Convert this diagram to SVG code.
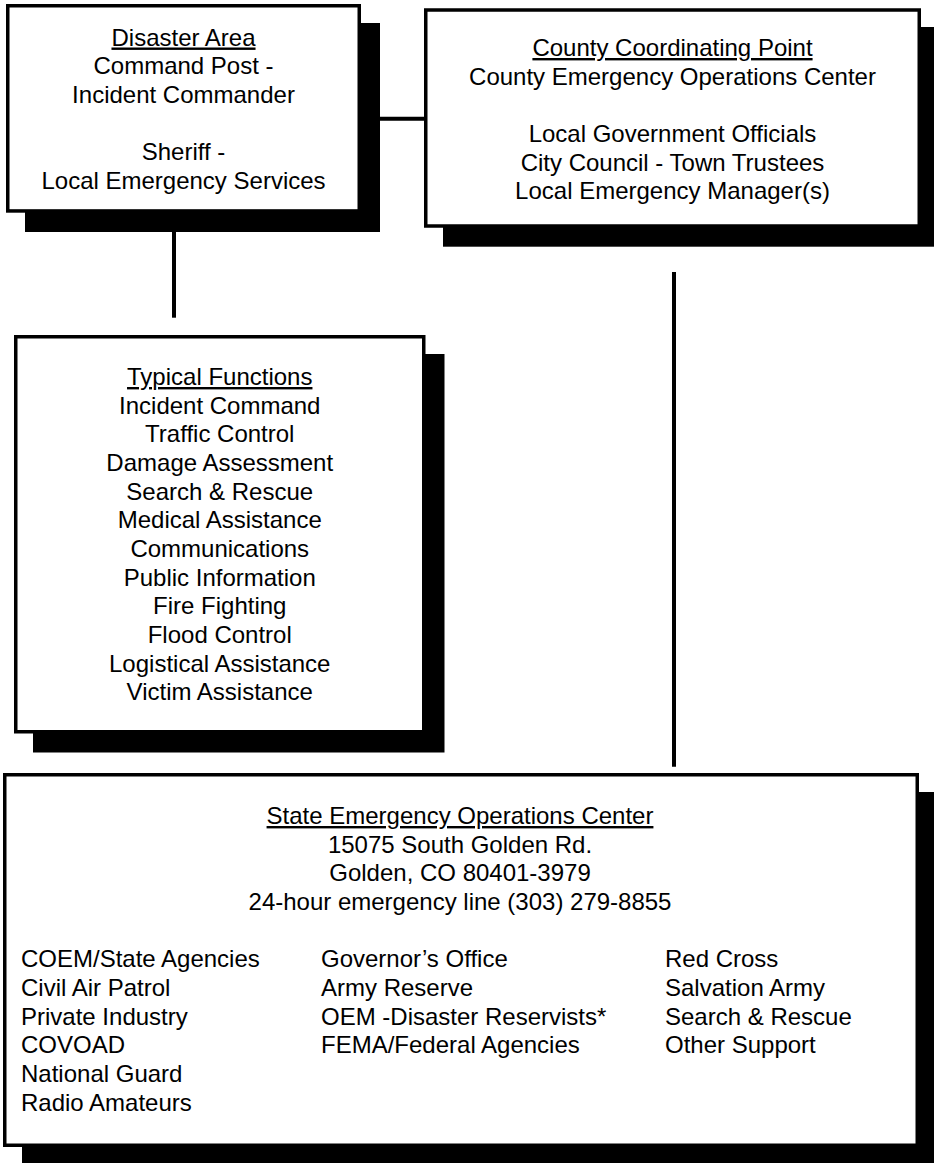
<svg xmlns="http://www.w3.org/2000/svg" width="934" height="1163" viewBox="0 0 934 1163">
<style>
.shadow{fill:#000;stroke:none}
.box{fill:#fff;stroke:#000;stroke-width:3.5}
.t{font-family:"Liberation Sans",Arial,sans-serif;font-size:24px;fill:#000}
.c{text-anchor:middle}
.u{text-decoration:underline}
.conn{stroke:#000;stroke-width:4;fill:none}
</style>
<rect width="934" height="1163" fill="#fff"/>
<g id="connectors">
<line class="conn" x1="379" y1="118.7" x2="425" y2="118.7"/>
<line class="conn" x1="174" y1="231.7" x2="174" y2="317.7"/>
<line class="conn" x1="674" y1="272" x2="674" y2="766.7"/>
</g>
<g id="disaster-area">
<rect class="shadow" x="25" y="23" width="355" height="209"/>
<rect class="box" x="7.75" y="5.75" width="351.5" height="205.2"/>
<text class="t c" x="183.5"><tspan class="u" x="183.5" y="45.5">Disaster Area</tspan><tspan x="183.5" y="74.2">Command Post -</tspan><tspan x="183.5" y="102.9">Incident Commander</tspan><tspan x="183.5" y="160.3">Sheriff -</tspan><tspan x="183.5" y="189">Local Emergency Services</tspan></text>
</g>
<g id="county-coordinating-point">
<rect class="shadow" x="443" y="27" width="497" height="219.7"/>
<rect class="box" x="425.75" y="10" width="493.5" height="216"/>
<text class="t c" x="672.5"><tspan class="u" x="672.5" y="56">County Coordinating Point</tspan><tspan x="672.5" y="84.7">County Emergency Operations Center</tspan><tspan x="672.5" y="142">Local Government Officials</tspan><tspan x="672.5" y="170.7">City Council - Town Trustees</tspan><tspan x="672.5" y="199.4">Local Emergency Manager(s)</tspan></text>
</g>
<g id="typical-functions">
<rect class="shadow" x="33" y="354" width="411.5" height="398.5"/>
<rect class="box" x="15.75" y="336.75" width="408" height="395"/>
<text class="t c" x="219.75"><tspan class="u" x="219.75" y="385">Typical Functions</tspan><tspan x="219.75" y="413.65">Incident Command</tspan><tspan x="219.75" y="442.3">Traffic Control</tspan><tspan x="219.75" y="470.95">Damage Assessment</tspan><tspan x="219.75" y="499.6">Search &amp; Rescue</tspan><tspan x="219.75" y="528.25">Medical Assistance</tspan><tspan x="219.75" y="556.9">Communications</tspan><tspan x="219.75" y="585.55">Public Information</tspan><tspan x="219.75" y="614.2">Fire Fighting</tspan><tspan x="219.75" y="642.85">Flood Control</tspan><tspan x="219.75" y="671.5">Logistical Assistance</tspan><tspan x="219.75" y="700.15">Victim Assistance</tspan></text>
</g>
<g id="state-eoc">
<rect class="shadow" x="22" y="792" width="916" height="375"/>
<rect class="box" x="4.75" y="774.75" width="912.5" height="370.5"/>
<text class="t c" x="460"><tspan class="u" x="460" y="824">State Emergency Operations Center</tspan><tspan x="460" y="852.65">15075 South Golden Rd.</tspan><tspan x="460" y="881.3">Golden, CO 80401-3979</tspan><tspan x="460" y="910">24-hour emergency line (303) 279-8855</tspan></text>
<text class="t" x="21"><tspan x="21" y="967.3">COEM/State Agencies</tspan><tspan x="21" y="995.9">Civil Air Patrol</tspan><tspan x="21" y="1024.6">Private Industry</tspan><tspan x="21" y="1053.2">COVOAD</tspan><tspan x="21" y="1081.9">National Guard</tspan><tspan x="21" y="1110.5">Radio Amateurs</tspan></text>
<text class="t" x="321"><tspan x="321" y="967.3">Governor’s Office</tspan><tspan x="321" y="995.9">Army Reserve</tspan><tspan x="321" y="1024.6">OEM -Disaster Reservists*</tspan><tspan x="321" y="1053.2">FEMA/Federal Agencies</tspan></text>
<text class="t" x="665"><tspan x="665" y="967.3">Red Cross</tspan><tspan x="665" y="995.9">Salvation Army</tspan><tspan x="665" y="1024.6">Search &amp; Rescue</tspan><tspan x="665" y="1053.2">Other Support</tspan></text>
</g>
</svg>
